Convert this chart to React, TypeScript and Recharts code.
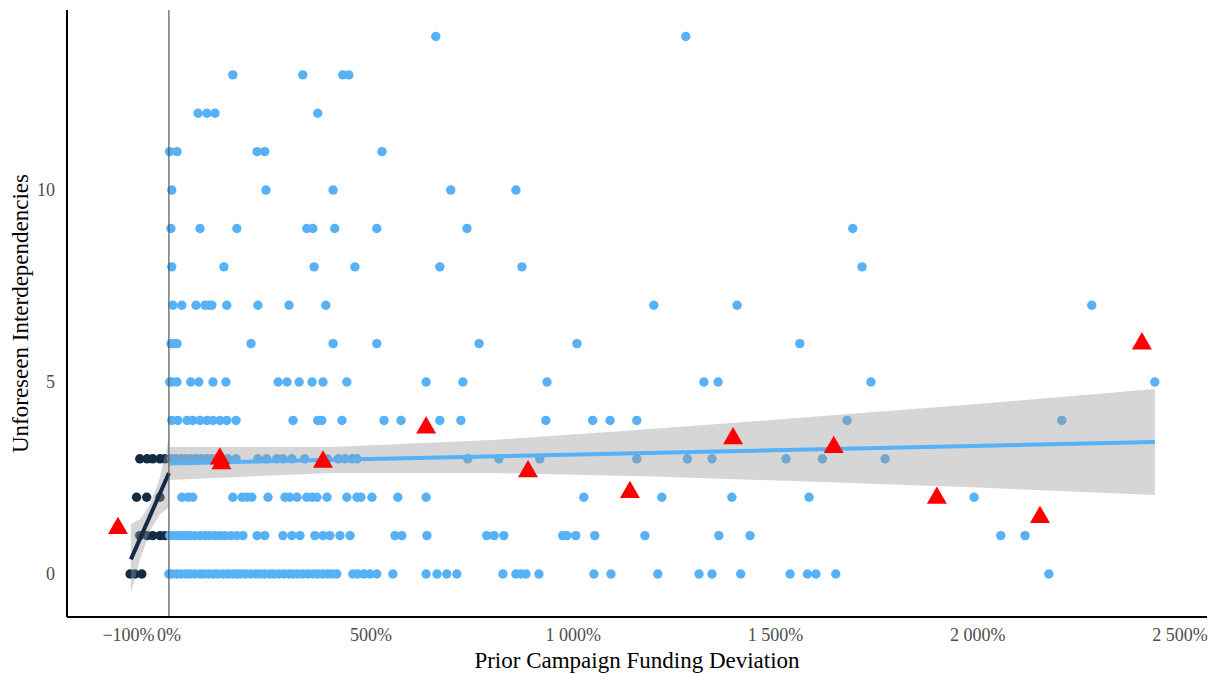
import React from 'react';
import { ComposedChart, Scatter, Line, Area, XAxis, YAxis, ReferenceLine } from 'recharts';

// Blue group (x >= 0): x values (%) for each y level 0..14
const blueRows: number[][] = [
  [0, 7, 20, 30, 42, 52, 64, 77, 87, 99, 111, 121, 134, 146, 158, 168, 178, 190, 203, 215, 225, 237, 250, 260, 272, 284, 297, 307, 319, 331, 344, 356, 368, 381, 393, 403, 415, 455, 467, 482, 497, 514, 554, 636, 663, 687, 712, 826, 858, 870, 883, 915, 1051, 1093, 1209, 1311, 1343, 1414, 1536, 1579, 1600, 1649, 2176],
  [2, 12, 22, 32, 42, 52, 64, 77, 89, 101, 114, 126, 138, 153, 168, 183, 218, 237, 282, 304, 324, 361, 381, 398, 423, 448, 559, 576, 638, 786, 804, 828, 974, 984, 1006, 1053, 1177, 1360, 1437, 2057, 2117],
  [32, 47, 59, 158, 181, 193, 205, 245, 287, 299, 317, 341, 354, 366, 391, 440, 465, 475, 502, 566, 636, 1026, 1219, 1392, 1583, 1991],
  [7, 17, 30, 42, 54, 67, 79, 92, 104, 116, 131, 146, 166, 220, 242, 267, 282, 304, 336, 392, 419, 435, 453, 465, 739, 816, 917, 1157, 1282, 1343, 1526, 1616, 1771],
  [7, 22, 45, 59, 77, 94, 109, 126, 143, 166, 307, 368, 378, 428, 532, 574, 670, 722, 932, 1048, 1091, 1157, 1677, 2208],
  [2, 7, 20, 54, 74, 109, 141, 270, 292, 322, 354, 381, 440, 636, 727, 935, 1323, 1358, 1736, 2438],
  [5, 12, 20, 203, 406, 514, 767, 1009, 1560],
  [10, 32, 67, 89, 99, 106, 143, 220, 297, 388, 1199, 1405, 2282],
  [7, 136, 359, 460, 670, 873, 1714],
  [5, 77, 168, 341, 356, 410, 514, 737, 1691],
  [7, 240, 406, 697, 858],
  [2, 20, 218, 237, 527],
  [72, 94, 114, 368],
  [158, 331, 430, 445],
  [660, 1278],
];

// Dark group (x < 0): x values (%) for y levels 0..3
const darkRows: number[][] = [
  [-96, -84, -67],
  [-72, -54, -40, -22, -10],
  [-80, -55, -22],
  [-72, -54, -40, -22, -10],
];

// Binned means (red triangles)
const binX = [-126, 126, 130, 381, 636, 888, 1140, 1395, 1644, 1899, 2154, 2406];
const binY = [1.19, 3.0, 2.88, 2.92, 3.81, 2.67, 2.13, 3.53, 3.3, 1.98, 1.48, 6.0];

// Fitted lines and confidence bands
const blueFitX = [2, 2438];
const blueFitY = [2.88, 3.44];
const blueBandX = [0, 400, 800, 1200, 1600, 2000, 2438];
const blueBandLow = [2.45, 2.63, 2.63, 2.54, 2.4, 2.25, 2.06];
const blueBandHigh = [3.31, 3.31, 3.49, 3.78, 4.1, 4.43, 4.82];

const darkFitX = [-94, 0];
const darkFitY = [0.38, 2.63];
const darkBandX = [-94, -70, -46, -23, 0];
const darkBandLow = [-0.5, 0.42, 1.13, 1.55, 1.73];
const darkBandHigh = [1.3, 1.44, 1.83, 2.49, 3.53];

const xTicks = [-100, 0, 500, 1000, 1500, 2000, 2500];
const yTicks = [0, 5, 10];

const BLUE = '#56B1F7';
const DARK = '#132B43';
const FONT = '"Liberation Serif", "Times New Roman", serif';

const bluePoints = blueRows.flatMap((xs, y) => xs.map((x) => ({ x, y })));
const darkPoints = darkRows.flatMap((xs, y) => xs.map((x) => ({ x, y })));
const binPoints = binX.map((x, i) => ({ x, y: binY[i] }));
const blueFit = blueFitX.map((x, i) => ({ x, y: blueFitY[i] }));
const darkFit = darkFitX.map((x, i) => ({ x, y: darkFitY[i] }));
const blueBand = blueBandX.map((x, i) => ({ x, range: [blueBandLow[i], blueBandHigh[i]] }));
const darkBand = darkBandX.map((x, i) => ({ x, range: [darkBandLow[i], darkBandHigh[i]] }));

const fmtX = (v: number) => {
  const s = Math.abs(v).toString().replace(/\B(?=(\d{3})+(?!\d))/g, ' ');
  return (v < 0 ? '\u2212' : '') + s + '%';
};

const dot = (color: string) => (p: any) => (
  <circle cx={p.cx} cy={p.cy} r={4.7} fill={color} />
);

const triangle = (p: any) => {
  const s = 20;
  const h = s * 0.866;
  const { cx, cy } = p;
  return (
    <polygon
      points={`${cx},${cy - (2 * h) / 3} ${cx + s / 2},${cy + h / 3} ${cx - s / 2},${cy + h / 3}`}
      fill="#FF0000"
    />
  );
};

export default function App() {
  return (
    <ComposedChart width={1214} height={665} margin={{ top: 2, right: 15, bottom: 0, left: 0 }}>
      <XAxis
        type="number"
        dataKey="x"
        domain={[-252, 2567]}
        allowDataOverflow
        ticks={xTicks}
        interval={0}
        tickFormatter={fmtX}
        axisLine={{ stroke: '#000', strokeWidth: 2 }}
        tickLine={false}
        tickMargin={5}
        height={56}
        tick={{ fill: '#4D4D4D', fontSize: 18, fontFamily: FONT }}
        label={{
          value: 'Prior Campaign Funding Deviation',
          position: 'insideBottom',
          offset: 5,
          style: { fill: '#000', fontSize: 23, fontFamily: FONT },
        }}
      />
      <YAxis
        type="number"
        dataKey="y"
        domain={[-1.12, 14.69]}
        allowDataOverflow
        ticks={yTicks}
        interval={0}
        axisLine={{ stroke: '#000', strokeWidth: 2 }}
        tickLine={false}
        tickMargin={6}
        width={59}
        tick={{ fill: '#4D4D4D', fontSize: 18, fontFamily: FONT }}
        label={{
          value: 'Unforeseen Interdependencies',
          angle: -90,
          position: 'insideLeft',
          offset: 12,
          style: { textAnchor: 'middle', fill: '#000', fontSize: 23, fontFamily: FONT },
        }}
      />
      <Scatter data={darkPoints} fill={DARK} shape={dot(DARK)} isAnimationActive={false} zIndex={50} />
      <Scatter data={bluePoints} fill={BLUE} shape={dot(BLUE)} isAnimationActive={false} zIndex={50} />
      <Area
        data={darkBand}
        dataKey="range"
        type="linear"
        stroke="none"
        fill="#999999"
        fillOpacity={0.4}
        isAnimationActive={false}
        zIndex={100}
      />
      <Area
        data={blueBand}
        dataKey="range"
        type="linear"
        stroke="none"
        fill="#999999"
        fillOpacity={0.4}
        isAnimationActive={false}
        zIndex={100}
      />
      <Line data={darkFit} dataKey="y" type="linear" stroke={DARK} strokeWidth={4} dot={false} isAnimationActive={false} zIndex={400} />
      <Line data={blueFit} dataKey="y" type="linear" stroke={BLUE} strokeWidth={4} dot={false} isAnimationActive={false} zIndex={400} />
      <ReferenceLine x={0} stroke="#555555" strokeWidth={1.2} zIndex={450} />
      <Scatter data={binPoints} fill="#FF0000" shape={triangle} isAnimationActive={false} zIndex={700} />
    </ComposedChart>
  );
}
